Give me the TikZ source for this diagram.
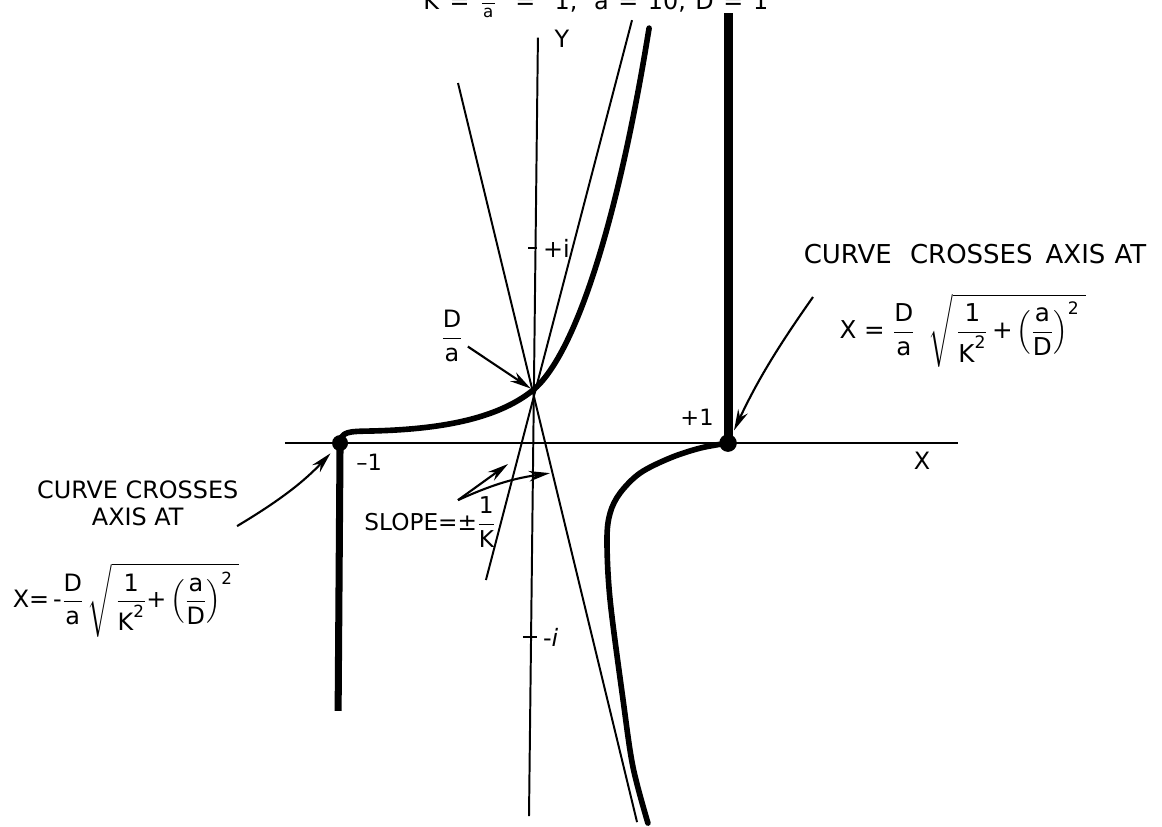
\documentclass[tikz,border=0pt]{standalone}
\usepackage{amsmath}
\usepackage{fontspec}
\setmainfont{DejaVu Sans}
\usetikzlibrary{arrows.meta}

\tikzset{
  >={Stealth[length=15pt,width=7.5pt]},
  thinline/.style={line width=1.4pt},
  branch/.style={line width=4pt,line cap=round,line join=round},
  pointer/.style={->,line width=1.5pt},
  label/.style={font=\fontsize{17}{20}\selectfont,inner sep=0pt},
  formula/.style={font=\fontsize{17}{20}\selectfont,inner sep=0pt},
}

\begin{document}
\begin{tikzpicture}[x=4.85cm,y=4.85cm]
 \useasboundingbox (-2.758,-1.979) rectangle (3.232,2.284);
 \clip (-2.758,-1.979) rectangle (3.232,2.284);
 % title, only its lower edge is left on the sheet
 \node[label,anchor=base west] (title) at (-0.577,2.237) {K\hspace{0.44em}=\hspace{0.44em}$\frac{\mathrm{D}}{\mathrm{a}}$\hspace{0.8em}=\hspace{0.8em}1,\hspace{0.7em}a\hspace{0.4em}=\hspace{0.4em}10,\hspace{0.4em}D\hspace{0.4em}=\hspace{0.4em}1};
 % axes
 \draw[thinline] (-1.289,0) -- (2.180,0);
 \draw[thinline] (0.015,2.09) -- (-0.031,-1.923);
 \node[label] (ylab) at (0.139,2.082) {Y};
 \node[label] (xlab) at (1.995,-0.093) {X};
 \draw[thinline] (-0.036,1.005) -- (0.01,1.005);
 \draw[thinline] (-0.062,-1) -- (0.01,-1);
 \node[label,anchor=west] (plusi) at (0.04,1.005) {+i};
 \node[label,anchor=west] (minusi) at (0.04,-1.0) {-\textit{i}};
 % asymptotes through D/a
 \coordinate (P) at (-0.01,0.273);
 \draw[thinline] (0.500,2.180) -- (-0.253,-0.706);
 \draw[thinline] (-0.397,1.856) -- (0.526,-1.954);
 % the two branches
 \coordinate (L) at (-1.005,0);
 \coordinate (R) at (0.995,0);
 \draw[branch] (L) .. controls (-1.0,0.06) and (-0.96,0.06) .. (-0.85,0.062)
   .. controls (-0.5,0.07) and (-0.2,0.12) .. (P)
   .. controls (0.2,0.45) and (0.42,1.1) .. (0.588,2.139);
 \draw[branch] plot[smooth,tension=0.55] coordinates {(R) (0.851,-0.026) (0.696,-0.077) (0.541,-0.155) (0.438,-0.258) (0.387,-0.361) (0.371,-0.5) (0.387,-0.809) (0.454,-1.325) (0.505,-1.670) (0.582,-1.959)};
 \draw[line width=5pt] (L) -- (-1.015,-1.381);
 \draw[line width=6.4pt] (R) -- (0.995,2.216);
 \fill (L) circle (0.2cm);
 \fill (R) circle (0.22cm);
 \node[label,font=\fontsize{16}{18}\selectfont] (lone) at (-0.855,-0.098) {–1};
 \node[label,font=\fontsize{16}{18}\selectfont] (rone) at (0.835,0.134) {+1};
 % intercept
 \node[formula] (Da) at (-0.428,0.552) {$\dfrac{\mathrm{D}}{\mathrm{a}}$};
 \draw[pointer,shorten <=4pt,shorten >=2pt] (Da) -- (P);
 % right crossing
 \node[label,font=\fontsize{18.5}{20}\selectfont] (rtext) at (2.268,0.975) {CURVE\hspace{0.7em}CROSSES\hspace{0.5em}AXIS\hspace{0.35em}AT};
 \node[formula,font=\fontsize{17.5}{20}\selectfont] (rform) at (2.206,0.580) {$\mathrm{X}\ \text{=}\ \dfrac{\mathrm{D}}{\mathrm{a}}\;\;\sqrt{\,\dfrac{\mathrm{1}}{\mathrm{K}^{\mathrm{2}}}\,\text{+}\left(\dfrac{\mathrm{a}}{\mathrm{D}}\right)^{\mathrm{2}}\;}$};
 \coordinate (rstart) at (1.433,0.753);
 \draw[pointer,shorten >=0.35cm] (rstart) to[bend right=5] (R);
 % left crossing
 \node[label,align=center,font=\fontsize{17}{19}\selectfont] (ltext) at (-2.048,-0.311) {CURVE CROSSES\\AXIS AT};
 \node[formula] (lform) at (-2.108,-0.809) {$\mathrm{X}\text{=}\,\text{-}\dfrac{\mathrm{D}}{\mathrm{a}}\,\sqrt{\,\dfrac{\mathrm{1}}{\mathrm{K}^{\mathrm{2}}}\text{+}\left(\dfrac{\mathrm{a}}{\mathrm{D}}\right)^{\mathrm{2}}\;}$};
 \coordinate (lstart) at (-1.536,-0.428);
 \draw[pointer,shorten >=0.35cm] (lstart) to[bend right=8] (L);
 % slope
 \node[label,font=\fontsize{16.5}{19}\selectfont] (slope) at (-0.541,-0.407) {SLOPE=±$\dfrac{\mathrm{1}}{\mathrm{K}}$};
 \coordinate (sstart) at (-0.397,-0.294);
 \coordinate (sone) at (-0.139,-0.108);
 \coordinate (stwo) at (0.077,-0.155);
 \draw[pointer] (sstart) -- (sone);
 \draw[pointer] (sstart) to[bend left=8] (stwo);
\end{tikzpicture}
\end{document}
